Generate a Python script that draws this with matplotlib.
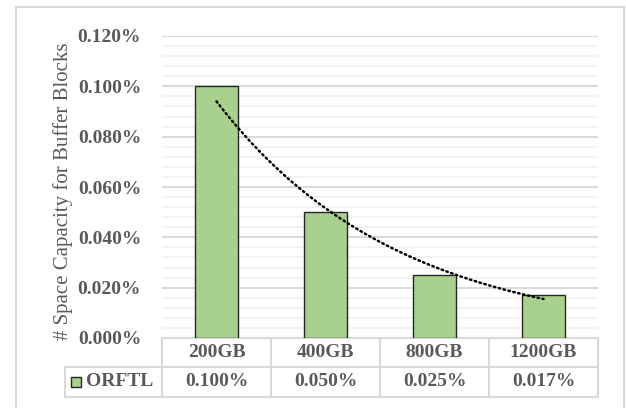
import numpy as np
import matplotlib.pyplot as plt
from matplotlib.lines import Line2D
from matplotlib.patches import Rectangle
from matplotlib.ticker import FuncFormatter, MultipleLocator

plt.rcParams['font.family'] = ['Liberation Serif', 'DejaVu Serif']

capacities = ['200GB', '400GB', '800GB', '1200GB']
orftl = [0.100, 0.050, 0.025, 0.017]   # percent
series_name = 'ORFTL'
ylabel = '# Space Capacity for Buffer Blocks'

TEXT = '#595959'
GRID = '#d9d9d9'
MINOR = '#f0f0f0'
BAR = '#a9d18e'
FS = 14

W, H = 626, 408
fig = plt.figure(figsize=(W / 100, H / 100), dpi=100)
ax = fig.add_axes([162 / W, 1 - 338 / H, (598 - 162) / W, (338 - 36) / H])

x = np.arange(len(capacities))
ax.bar(x, orftl, width=0.4, color=BAR, edgecolor='#262626', linewidth=1.0, zorder=3)

# exponential trendline (Excel style)
b, a = np.polyfit(x + 1, np.log(orftl), 1)
tx = np.linspace(0, len(x) - 1, 100)
ax.plot(tx, np.exp(a + b * (tx + 1)), color='black', linewidth=1.8,
        linestyle=(0, (0.6, 1.4)), dash_capstyle='round', zorder=4)

ax.set_xlim(-0.5, len(x) - 0.5)
ax.set_ylim(0, 0.12)
ax.yaxis.set_major_locator(MultipleLocator(0.02))
ax.yaxis.set_minor_locator(MultipleLocator(0.004))
ax.yaxis.set_major_formatter(FuncFormatter(lambda v, p: f'{v:.3f}%'))
ax.grid(axis='y', which='major', color=GRID, linewidth=1.4, zorder=0)
ax.grid(axis='y', which='minor', color=MINOR, linewidth=1.2, zorder=0)
ax.tick_params(axis='y', which='both', length=0, pad=15, labelsize=FS, labelcolor=TEXT)
for lab in ax.get_yticklabels():
    lab.set_fontweight('bold')
ax.set_xticks([])
for s in ax.spines.values():
    s.set_visible(False)
ax.set_ylabel(ylabel, fontsize=15, color=TEXT)
ax.yaxis.set_label_coords(-0.205, 0.485)

# data table below the plot
ph = 302.0
r1 = -29 / ph
r2 = -59 / ph
xl = -0.5 - 97 / 109
tr = ax.get_xaxis_transform()
lk = dict(color=GRID, linewidth=1.5, transform=tr, clip_on=False, zorder=1)
ax.add_line(Line2D([-0.5, 3.5], [0, 0], **lk))
ax.add_line(Line2D([xl, 3.5], [r1, r1], **lk))
ax.add_line(Line2D([xl, 3.5], [r2, r2], **lk))
ax.add_line(Line2D([xl, xl], [r1, r2], **lk))
for xv in np.arange(-0.5, 4.0, 1.0):
    ax.add_line(Line2D([xv, xv], [0, r2], **lk))

tk = dict(transform=tr, ha='center', va='center', fontsize=FS,
          fontweight='bold', color=TEXT, clip_on=False)
for i, (c, v) in enumerate(zip(capacities, orftl)):
    ax.text(i, r1 / 2, c, **tk)
    ax.text(i, (r1 + r2) / 2, f'{v:.3f}%', **tk)

# legend key in the table
fig.patches.append(Rectangle((71 / W, 1 - 387 / H), 10 / W, 10 / H, transform=fig.transFigure,
                             facecolor=BAR, edgecolor='#262626', linewidth=1.0))
fig.text(86 / W, 1 - 382 / H, series_name, ha='left', va='center', fontsize=FS,
         fontweight='bold', color=TEXT)

# chart border
fig.patches.append(Rectangle((16 / W, -0.05), (624 - 16) / W, 1 - 7 / H + 0.05,
                             transform=fig.transFigure, fill=False,
                             edgecolor=GRID, linewidth=1.5))

fig.savefig('out.png', dpi=100)
